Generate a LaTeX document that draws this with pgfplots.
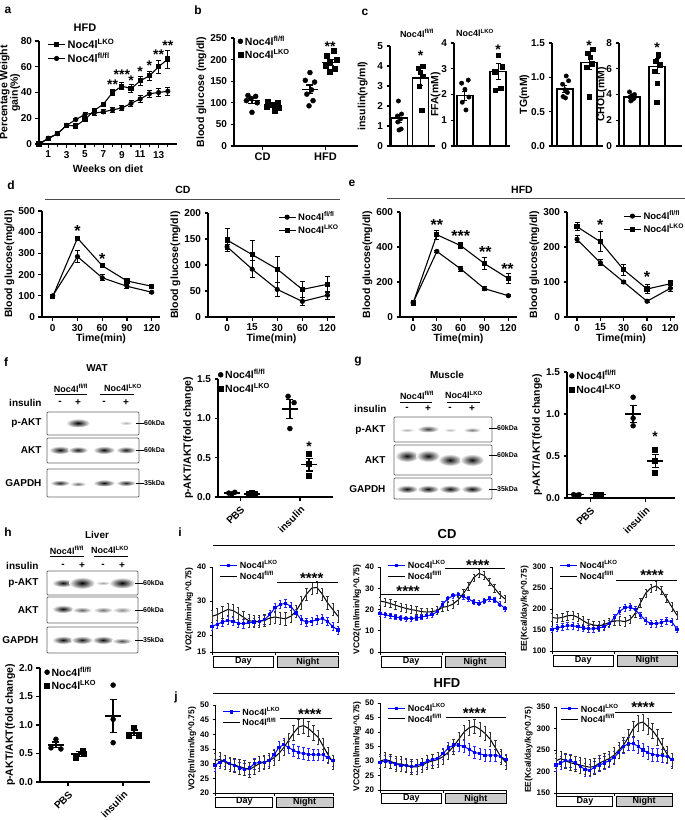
\documentclass[border=0pt]{standalone}
\usepackage{fontspec}
\setmainfont{Liberation Sans}
\usepackage{pgfplots}
\pgfplotsset{compat=1.18}
\newcommand{\fl}{Noc4l\textsuperscript{fl/fl}}
\newcommand{\lko}{Noc4l\textsuperscript{LKO}}
\newcommand{\fs}[1]{\fontsize{#1}{#1}\selectfont\bfseries}
\pgfplotsset{
 gp/.style={scale only axis, axis lines=left, axis line style={-, line width=1.3pt},
   tick align=outside, major tick length=3.5pt, minor tick length=3pt,
   every tick/.style={black, line width=1.2pt},
   tick label style={font=\fs{10}},
   label style={font=\fs{10.5}}, ylabel shift=-3pt,
   /pgf/number format/assume math mode=true,
   clip=false, legend cell align=left,
   legend style={draw=none, fill=none, font=\fs{10.5}, row sep=-1pt, inner sep=0pt}},
 ts/.style={tick label style={font=\fs{8}}, label style={font=\fs{8.5}}, major tick length=2.5pt,
   every tick/.style={black, line width=0.9pt}, axis line style={-, line width=1pt},
   xtick={0,12,24}, xticklabels={}, legend style={font=\fs{9}, row sep=-3pt}},
 dec1/.style={yticklabel style={/pgf/number format/fixed, /pgf/number format/fixed zerofill, /pgf/number format/precision=1}},
 ebar/.style={error bars/y dir=both, error bars/y explicit,
   error bars/error bar style={line width=1pt, black, solid},
   error bars/error mark options={rotate=90, mark size=2.5pt, line width=1pt, black}},
 dots/.style={only marks, mark size=2.5pt, black},
 meanl/.style={only marks, mark=-, mark size=8pt, black, mark options={line width=1.4pt},
   error bars/y dir=both, error bars/y explicit,
   error bars/error bar style={line width=1.3pt, black},
   error bars/error mark options={rotate=90, mark size=3.5pt, line width=1.3pt, black}},
 cbar/.style={ybar, bar width=16pt, fill=white, draw=black, line width=1.3pt, ebar},
 blueS/.style={blue, line width=1pt, mark=square*, mark size=1.1pt,
   error bars/y dir=both, error bars/y fixed=#1,
   error bars/error bar style={blue!85, line width=0.5pt},
   error bars/error mark options={rotate=90, mark size=1.2pt, blue!85, line width=0.5pt}},
 blackS/.style={black, line width=1pt, mark=none,
   error bars/y dir=both, error bars/y fixed=#1,
   error bars/error bar style={black!80, line width=0.5pt},
   error bars/error mark options={rotate=90, mark size=1.2pt, black!80, line width=0.5pt}},
}
\newcommand{\daynight}[3]{%
 \draw[line width=0.9pt, fill=white] (rel axis cs:0.008,#1) rectangle (rel axis cs:0.49,#2);
 \draw[line width=0.9pt, fill=gray!40] (rel axis cs:0.52,#1) rectangle (rel axis cs:1.0,#2);
 \node[font=\fs{9}] at (rel axis cs:0.25,#3) {Day};
 \node[font=\fs{9}] at (rel axis cs:0.76,#3) {Night};}
\newcommand{\band}[5]{\shade[inner color=black!#5, outer color=white] (#1,#2) ellipse (#3 and #4);}
\begin{document}
\begin{tikzpicture}[font=\bfseries]
\path[use as bounding box] (0,0) rectangle (685pt,-820pt);

%%%%%%%% a
\begin{axis}[gp, at={(39pt,-144pt)}, anchor=south west, width=138pt, height=103pt,
 xmin=0,xmax=15,ymin=0,ymax=80, xtick={1,3,...,13}, minor xtick={0,2,...,14}, ytick={0,20,...,80},
 xlabel={Weeks on diet}, ylabel={Percentage Weight\\gain(\%)}, ylabel style={align=center, font=\fs{10.5}}, ylabel shift=-6pt,
 legend style={at={(0.06,1.04)},anchor=north west, font=\fs{11}}]
\addplot[black, line width=1.1pt, mark=square*, mark size=2pt, ebar] coordinates {
(0,0)+-(0,0) (1,4)+-(0,0.5) (2,8)+-(0,0.8) (3,14.5)+-(0,1) (4,14)+-(0,1) (5,19)+-(0,1.5)
(6,26)+-(0,1.5) (7,31)+-(0,1.5) (8,40)+-(0,2.5) (9,45)+-(0,2.5) (10,43)+-(0,3) (11,49)+-(0,3.5)
(12,53)+-(0,3.5) (13,60)+-(0,5) (14,66)+-(0,7)};
\addlegendentry{\lko}
\addplot[black, line width=1.1pt, mark=*, mark size=2pt, ebar] coordinates {
(0,0)+-(0,0) (1,4.5)+-(0,0.5) (2,8)+-(0,0.8) (3,14.5)+-(0,1) (4,19)+-(0,1) (5,23)+-(0,1.5)
(6,24)+-(0,1.5) (7,25)+-(0,1.5) (8,26.5)+-(0,2) (9,28)+-(0,2) (10,31.5)+-(0,2) (11,35)+-(0,2.5)
(12,39)+-(0,2.5) (13,40)+-(0,3) (14,41)+-(0,3)};
\addlegendentry{\fl}
\begin{scope}[every node/.style={font=\fs{14}}]
\node at (axis cs:8,46) {**}; \node at (axis cs:9,54) {***}; \node at (axis cs:10,49) {*};
\node at (axis cs:11,56) {*}; \node at (axis cs:12,61) {*}; \node at (axis cs:13,69) {**};
\node at (axis cs:14,76) {**};
\end{scope}
\end{axis}

%%%%%%%% b
\begin{axis}[gp, at={(234pt,-146pt)}, anchor=south west, width=124pt, height=108pt,
 xmin=0,xmax=4,ymin=0,ymax=250, xtick={0.92,2.95}, xticklabels={CD,HFD}, ytick={0,50,...,250},
 xticklabel style={font=\fs{11}},
 ylabel={Blood glucose (mg/dl)}, legend style={at={(0.03,1.04)}, anchor=north west}]
\addplot[dots, mark=*] coordinates {(0.45,117)(0.7,115)(0.55,110)(0.4,105)(0.75,100)(0.58,78)
 (2.45,170)(2.3,152)(2.6,148)(2.5,130)(2.35,120)(2.55,105)(2.42,93)};
\addlegendentry{\fl}
\addplot[dots, mark=square*] coordinates {(1.1,103)(1.4,100)(1.25,95)(1.05,92)(1.45,88)(1.3,82)
 (3.2,220)(3.0,210)(3.3,200)(3.1,195)(2.95,185)(3.25,178)(3.1,172)};
\addlegendentry{\lko}
\addplot[meanl, forget plot] coordinates {(0.58,105)+-(0,6) (2.45,131)+-(0,10)};
\addplot[meanl, forget plot] coordinates {(1.26,93)+-(0,4) (3.1,193)+-(0,7)};
\node[font=\fs{14}] at (axis cs:3.1,230) {**};
\end{axis}

%%%%%%%% c
\begin{axis}[gp, at={(390pt,-146pt)}, anchor=south west, width=45pt, height=100pt,
 xmin=0.55, xmax=2.69, ymin=0, ymax=5, ytick={0,...,5}, xtick=\empty, ylabel={insulin(ng/ml)}, ylabel shift=3pt]
\addplot[cbar] coordinates {(1,1.4)+-(0,0.2) (2,3.4)+-(0,0.35)};
\addplot[dots, mark=*, mark size=2.2pt] coordinates {(0.95,2.25)(1.1,1.6)(0.9,1.5)(1.05,1.35)(0.92,1.2)(1.08,0.85)(0.98,0.8)};
\addplot[dots, mark=square*, mark size=2.2pt] coordinates {(2.1,4.0)(1.9,3.9)(2.0,3.7)(2.12,3.5)(1.95,3.0)(2.05,1.8)};
\node[font=\fs{14}] at (axis cs:2,4.5) {*};
\end{axis}
\begin{axis}[gp, at={(454pt,-146pt)}, anchor=south west, width=56pt, height=103pt,
 xmin=0.67, xmax=2.36, ymin=0, ymax=4, ytick={0,...,4}, xtick=\empty, ylabel={FFA(mM)}, ylabel shift=-6pt]
\addplot[cbar] coordinates {(1,1.95)+-(0,0.17) (2,2.9)+-(0,0.3)};
\addplot[dots, mark=*, mark size=2.2pt] coordinates {(1.1,2.56)(0.9,2.44)(1.0,2.2)(1.12,1.9)(0.92,1.7)(1.03,1.4)};
\addplot[dots, mark=square*, mark size=2.2pt] coordinates {(2.0,3.53)(2.12,3.08)(1.9,2.89)(2.08,2.24)(1.92,2.17)};
\node[font=\fs{14}] at (axis cs:2,3.75) {*};
\end{axis}
\begin{axis}[gp, dec1, at={(552pt,-146pt)}, anchor=south west, width=51pt, height=103pt,
 xmin=0.46, xmax=2.58, ymin=0, ymax=1.5, ytick={0,0.5,1,1.5}, xtick=\empty, ylabel={TG(mM)}, ylabel shift=-5pt]
\addplot[cbar] coordinates {(1,0.83)+-(0,0.05) (2,1.22)+-(0,0.1)};
\addplot[dots, mark=*, mark size=2.2pt] coordinates {(1.05,1.02)(1.15,0.95)(0.9,0.9)(1.0,0.82)(1.1,0.78)(0.92,0.72)(1.02,0.7)};
\addplot[dots, mark=square*, mark size=2.2pt] coordinates {(2.15,1.41)(1.95,1.35)(2.05,1.29)(2.12,1.2)(1.9,1.15)(2.0,0.72)};
\node[font=\fs{14}] at (axis cs:2,1.46) {*};
\end{axis}
\begin{axis}[gp, at={(619pt,-146pt)}, anchor=south west, width=63pt, height=103pt,
 xmin=0.48, xmax=3.0, ymin=0, ymax=8, ytick={0,2,...,8}, xtick=\empty, ylabel={CHOL(mM)}, ylabel shift=-7pt]
\addplot[cbar] coordinates {(1,3.8)+-(0,0.1) (2,6.2)+-(0,0.6)};
\addplot[dots, mark=*, mark size=2.2pt] coordinates {(0.9,4.2)(1.1,4.0)(1.0,3.9)(0.92,3.8)(1.08,3.7)(1.0,3.6)(0.95,3.5)};
\addplot[dots, mark=square*, mark size=2.2pt] coordinates {(2.05,7.1)(1.95,6.6)(2.1,6.3)(1.9,5.8)(2.0,4.9)(1.98,3.4)};
\node[font=\fs{14}] at (axis cs:2,7.6) {*};
\end{axis}

%%%%%%%% d
\begin{axis}[gp, at={(42pt,-317pt)}, anchor=south west, width=118pt, height=106pt,
 xmin=-13, xmax=130, ymin=0, ymax=500, xtick={0,30,60,90,120}, ytick={0,100,...,500},
 xlabel={Time(min)}, ylabel={Blood glucose(mg/dl)}, xlabel style={yshift=4pt}]
\addplot[black, line width=1.1pt, mark=*, mark size=2pt, ebar] coordinates {
(0,100)+-(0,5) (30,285)+-(0,28) (60,185)+-(0,15) (90,145)+-(0,10) (120,117)+-(0,5)};
\addplot[black, line width=1.1pt, mark=square*, mark size=2pt, ebar] coordinates {
(0,97)+-(0,5) (30,372)+-(0,8) (60,242)+-(0,6) (90,170)+-(0,7) (120,145)+-(0,6)};
\node[font=\fs{16}] at (axis cs:30,405) {*};
\node[font=\fs{16}] at (axis cs:60,275) {*};
\end{axis}
\begin{axis}[gp, at={(208pt,-317pt)}, anchor=south west, width=127pt, height=104pt,
 xmin=-0.76, xmax=4.3, ymin=0, ymax=200, xtick={0,...,4}, xticklabels={0,15,30,60,120}, ytick={0,50,...,200},
 xlabel={Time(min)}, ylabel={Blood glucose(mg/dl)}, xlabel style={yshift=4pt},
 legend style={at={(0.55,1.03)}, anchor=north west, font=\fs{9.5}}]
\addplot[black, line width=1.1pt, mark=*, mark size=2pt, ebar] coordinates {
(0,135)+-(0,5) (1,92)+-(0,16) (2,53)+-(0,14) (3,30)+-(0,8) (4,42)+-(0,8)};
\addlegendentry{\fl}
\addplot[black, line width=1.1pt, mark=square*, mark size=2pt, ebar] coordinates {
(0,148)+-(0,22) (1,120)+-(0,28) (2,92)+-(0,25) (3,53)+-(0,15) (4,63)+-(0,15)};
\addlegendentry{\lko}
\end{axis}

%%%%%%%% e
\begin{axis}[gp, at={(400pt,-317pt)}, anchor=south west, width=117pt, height=105pt,
 xmin=-16.5, xmax=131, ymin=0, ymax=600, xtick={0,30,60,90,120}, ytick={0,200,...,600},
 xlabel={Time(min)}, ylabel={Blood glucose(mg/dl)}, xlabel style={yshift=4pt}]
\addplot[black, line width=1.1pt, mark=*, mark size=2pt, ebar] coordinates {
(0,82)+-(0,5) (30,375)+-(0,6) (60,275)+-(0,15) (90,162)+-(0,12) (120,122)+-(0,5)};
\addplot[black, line width=1.1pt, mark=square*, mark size=2pt, ebar] coordinates {
(0,80)+-(0,8) (30,470)+-(0,25) (60,408)+-(0,15) (90,305)+-(0,35) (120,220)+-(0,30)};
\begin{scope}[every node/.style={font=\fs{16}}]
\node at (axis cs:30,525) {**}; \node at (axis cs:60,462) {***};
\node at (axis cs:91,370) {**}; \node at (axis cs:119,275) {**};
\end{scope}
\end{axis}
\begin{axis}[gp, at={(567pt,-317pt)}, anchor=south west, width=108pt, height=105pt,
 xmin=-0.43, xmax=4.2, ymin=0, ymax=300, xtick={0,...,4}, xticklabels={0,15,30,60,120}, ytick={0,100,...,300},
 xlabel={Time(min)}, ylabel={Blood glucose(mg/dl)}, xlabel style={yshift=4pt},
 legend style={at={(0.52,1.03)}, anchor=north west, font=\fs{9.5}}]
\addplot[black, line width=1.1pt, mark=*, mark size=2pt, ebar] coordinates {
(0,222)+-(0,10) (1,155)+-(0,8) (2,100)+-(0,4) (3,45)+-(0,4) (4,82)+-(0,8)};
\addlegendentry{\fl}
\addplot[black, line width=1.1pt, mark=square*, mark size=2pt, ebar] coordinates {
(0,258)+-(0,12) (1,215)+-(0,28) (2,135)+-(0,15) (3,80)+-(0,12) (4,95)+-(0,10)};
\addlegendentry{\lko}
\node[font=\fs{16}] at (axis cs:1,262) {*};
\node[font=\fs{16}] at (axis cs:3,115) {*};
\end{axis}

%%%%%%%% f
\begin{axis}[gp, dec1, at={(218pt,-497pt)}, anchor=south west, width=115pt, height=118pt,
 xmin=0, xmax=1.92, ymin=0, ymax=1.5, ytick={0,0.5,1,1.5}, xtick={0.37,1.37}, xticklabels={PBS,insulin},
 xticklabel style={rotate=45, anchor=north east, font=\fs{10}},
 ylabel={p-AKT/AKT(fold change)}, legend style={at={(0.0,1.1)}, anchor=north west}]
\addplot[dots, mark=*] coordinates {(0.18,0.05)(0.23,0.04)(0.28,0.06)(1.17,1.28)(1.27,1.2)(1.2,0.87)};
\addlegendentry{\fl}
\addplot[dots, mark=square*] coordinates {(0.52,0.04)(0.57,0.05)(0.62,0.04)(1.52,0.55)(1.52,0.42)(1.52,0.27)};
\addlegendentry{\lko}
\addplot[meanl, forget plot] coordinates {(0.23,0.05)+-(0,0.005) (1.2,1.12)+-(0,0.12)};
\addplot[meanl, forget plot] coordinates {(0.57,0.04)+-(0,0.005) (1.52,0.41)+-(0,0.08)};
\node[font=\fs{14}] at (axis cs:1.52,0.64) {*};
\end{axis}

%%%%%%%% g
\begin{axis}[gp, dec1, at={(567pt,-498pt)}, anchor=south west, width=108pt, height=126pt,
 xmin=0, xmax=1.96, ymin=0, ymax=1.5, ytick={0,0.5,1,1.5}, xtick={0.42,1.42}, xticklabels={PBS,insulin},
 xticklabel style={rotate=45, anchor=north east, font=\fs{10}},
 ylabel={p-AKT/AKT(fold change)}, legend style={at={(0.02,1.03)}, anchor=north west}]
\addplot[dots, mark=*] coordinates {(0.12,0.04)(0.17,0.03)(0.22,0.04)(1.2,1.2)(1.2,0.95)(1.2,0.86)};
\addlegendentry{\fl}
\addplot[dots, mark=square*] coordinates {(0.52,0.04)(0.57,0.03)(0.62,0.04)(1.6,0.58)(1.6,0.44)(1.6,0.3)};
\addlegendentry{\lko}
\addplot[meanl, forget plot] coordinates {(0.17,0.04)+-(0,0.005) (1.2,1.0)+-(0,0.1)};
\addplot[meanl, forget plot] coordinates {(0.57,0.04)+-(0,0.005) (1.6,0.44)+-(0,0.08)};
\node[font=\fs{14}] at (axis cs:1.6,0.73) {*};
\end{axis}

%%%%%%%% h
\begin{axis}[gp, dec1, at={(40pt,-782pt)}, anchor=south west, width=110pt, height=114pt,
 xmin=0, xmax=2.0, ymin=0, ymax=2.0, ytick={0,0.5,...,2.0}, xtick={0.51,1.51}, xticklabels={PBS,insulin},
 xticklabel style={rotate=45, anchor=north east, font=\fs{10}},
 ylabel={p-AKT/AKT(fold change)}, legend style={at={(0.04,1.03)}, anchor=north west}]
\addplot[dots, mark=*] coordinates {(0.29,0.75)(0.2,0.6)(0.38,0.58)(1.33,1.7)(1.33,1.1)(1.33,0.69)};
\addlegendentry{\fl}
\addplot[dots, mark=square*] coordinates {(0.78,0.55)(0.65,0.43)(0.8,0.5)(1.71,0.95)(1.62,0.82)(1.8,0.82)};
\addlegendentry{\lko}
\addplot[meanl, forget plot] coordinates {(0.29,0.65)+-(0,0.05) (1.33,1.16)+-(0,0.29)};
\addplot[meanl, forget plot] coordinates {(0.71,0.49)+-(0,0.04) (1.71,0.86)+-(0,0.05)};
\end{axis}

%%%%%%%% i
\begin{axis}[gp, ts, at={(212pt,-652pt)}, anchor=south west, width=126pt, height=85pt,
 xmin=0, xmax=24, ymin=15, ymax=40, ytick={15,20,30,40}, ylabel={VO2(ml/min/kg\textasciicircum0.75)},
 legend style={at={(0.06,1.1)}, anchor=north west}]
\addplot[blueS=1.2] coordinates {(0,22.5)(1,23.2)(2,23.8)(3,24.3)(4,24.0)(5,23.5)(6,23.3)(7,23.6)(8,23.8)(9,24.0)(10,24.5)(11,26.0)(12,28.0)(13,29.0)(14,29.3)(15,28.5)(16,26.5)(17,24.5)(18,23.8)(19,24.0)(20,24.5)(21,24.8)(22,24.0)(23,22.5)(24,21.5)};
\addlegendentry{\lko}
\addplot[blackS=1.8] coordinates {(0,25.5)(1,26.0)(2,26.8)(3,27.5)(4,27.2)(5,26.3)(6,25.2)(7,24.2)(8,24.0)(9,24.0)(10,24.3)(11,25.0)(12,25.3)(13,25.0)(14,24.8)(15,25.5)(16,27.0)(17,29.5)(18,32.0)(19,33.8)(20,34.0)(21,32.0)(22,29.5)(23,27.5)(24,25.5)};
\addlegendentry{\fl}
\draw[line width=0.8pt] (axis cs:12.4,35.6) -- (axis cs:24,35.6);
\node[font=\fs{15}] at (axis cs:19,36.8) {****};
\daynight{-0.05}{-0.18}{-0.115}
\end{axis}
\begin{axis}[gp, ts, at={(380pt,-652pt)}, anchor=south west, width=125pt, height=85pt,
 xmin=0, xmax=24, ymin=0, ymax=40, ytick={0,10,...,40}, ylabel={VCO2(ml/min/kg\textasciicircum0.75)},
 legend style={at={(0.06,1.1)}, anchor=north west}]
\addplot[blueS=1.2] coordinates {(0,18.0)(1,17.5)(2,17.0)(3,16.5)(4,16.0)(5,15.8)(6,15.8)(7,16.0)(8,16.5)(9,17.0)(10,17.5)(11,19.0)(12,22.5)(13,25.0)(14,26.5)(15,27.0)(16,26.0)(17,25.0)(18,23.5)(19,23.0)(20,24.0)(21,25.0)(22,24.5)(23,22.5)(24,20.5)};
\addlegendentry{\lko}
\addplot[blackS=1.8] coordinates {(0,24.0)(1,23.5)(2,22.8)(3,22.0)(4,21.2)(5,20.5)(6,20.0)(7,19.5)(8,19.0)(9,18.8)(10,19.0)(11,19.5)(12,21.0)(13,21.5)(14,22.5)(15,24.5)(16,27.5)(17,31.0)(18,35.0)(19,37.0)(20,36.0)(21,33.0)(22,30.0)(23,27.0)(24,25.0)};
\addlegendentry{\fl}
\draw[line width=0.8pt] (axis cs:0,27.3) -- (axis cs:11.5,27.3);
\node[font=\fs{15}] at (axis cs:5.4,28.6) {****};
\draw[line width=0.8pt] (axis cs:12.5,39.5) -- (axis cs:24,39.5);
\node[font=\fs{15}] at (axis cs:18.8,40.8) {****};
\daynight{-0.05}{-0.18}{-0.115}
\end{axis}
\begin{axis}[gp, ts, at={(552pt,-651pt)}, anchor=south west, width=125pt, height=84pt,
 xmin=0, xmax=24, ymin=100, ymax=300, ytick={100,150,...,300}, ylabel={EE(Kcal/day/kg\textasciicircum0.75)},
 legend style={at={(0.06,1.1)}, anchor=north west}]
\addplot[blueS=8] coordinates {(0,152)(1,155)(2,158)(3,160)(4,160)(5,158)(6,155)(7,153)(8,153)(9,155)(10,158)(11,165)(12,180)(13,195)(14,203)(15,205)(16,198)(17,185)(18,172)(19,165)(20,165)(21,168)(22,172)(23,170)(24,152)};
\addlegendentry{\lko}
\addplot[blackS=10] coordinates {(0,180)(1,178)(2,180)(3,184)(4,185)(5,180)(6,172)(7,165)(8,162)(9,160)(10,163)(11,168)(12,172)(13,172)(14,170)(15,175)(16,190)(17,215)(18,238)(19,250)(20,255)(21,245)(22,225)(23,205)(24,185)};
\addlegendentry{\fl}
\draw[line width=0.8pt] (axis cs:12.3,267) -- (axis cs:24,267);
\node[font=\fs{15}] at (axis cs:19.2,279) {****};
\daynight{-0.05}{-0.18}{-0.115}
\end{axis}

%%%%%%%% j
\begin{axis}[gp, ts, at={(215pt,-793pt)}, anchor=south west, width=118pt, height=88pt,
 xmin=0, xmax=24, ymin=20, ymax=50, ytick={20,25,...,50}, ylabel={VO2(ml/min/kg\textasciicircum0.75)},
 legend style={at={(0.06,1.0)}, anchor=north west}]
\addplot[blueS=2] coordinates {(0,29.5)(1,30.5)(2,31.0)(3,30.0)(4,29.5)(5,28.5)(6,28.0)(7,28.5)(8,30.0)(9,30.5)(10,30.5)(11,31.0)(12,33.0)(13,35.5)(14,36.5)(15,35.5)(16,34.5)(17,33.8)(18,33.5)(19,33.2)(20,33.0)(21,33.0)(22,33.0)(23,32.0)(24,31.0)};
\addlegendentry{\lko}
\addplot[blackS=2.5] coordinates {(0,31.0)(1,31.5)(2,30.5)(3,29.8)(4,29.5)(5,29.0)(6,28.5)(7,28.0)(8,29.0)(9,30.0)(10,30.5)(11,31.0)(12,32.0)(13,33.5)(14,35.5)(15,38.0)(16,40.5)(17,42.5)(18,43.0)(19,42.0)(20,40.5)(21,39.0)(22,36.0)(23,33.0)(24,30.5)};
\addlegendentry{\fl}
\draw[line width=0.8pt] (axis cs:13.2,45.6) -- (axis cs:23.8,45.6);
\node[font=\fs{15}] at (axis cs:19.3,46.8) {****};
\daynight{-0.045}{-0.16}{-0.1}
\end{axis}
\begin{axis}[gp, ts, at={(380pt,-790pt)}, anchor=south west, width=126pt, height=87pt,
 xmin=0, xmax=24, ymin=20, ymax=50, ytick={20,25,...,50}, ylabel={VCO2(ml/min/kg\textasciicircum0.75)},
 legend style={at={(0.06,1.02)}, anchor=north west}]
\addplot[blueS=2] coordinates {(0,29.5)(1,30.0)(2,29.5)(3,29.0)(4,28.5)(5,28.5)(6,28.0)(7,28.5)(8,29.0)(9,30.0)(10,30.5)(11,31.0)(12,32.5)(13,34.5)(14,35.5)(15,35.5)(16,35.0)(17,34.0)(18,33.0)(19,32.5)(20,32.0)(21,32.0)(22,32.0)(23,31.5)(24,30.5)};
\addlegendentry{\lko}
\addplot[blackS=2.5] coordinates {(0,30.0)(1,30.5)(2,30.0)(3,29.0)(4,29.0)(5,28.5)(6,28.0)(7,28.0)(8,28.5)(9,29.5)(10,30.0)(11,30.5)(12,31.5)(13,33.0)(14,35.0)(15,37.5)(16,40.0)(17,41.5)(18,42.0)(19,41.0)(20,39.5)(21,37.5)(22,34.5)(23,31.5)(24,29.5)};
\addlegendentry{\fl}
\draw[line width=0.8pt] (axis cs:12.6,45.2) -- (axis cs:24,45.2);
\node[font=\fs{15}] at (axis cs:18,46.5) {****};
\daynight{-0.045}{-0.16}{-0.1}
\end{axis}
\begin{axis}[gp, ts, at={(556pt,-793pt)}, anchor=south west, width=116pt, height=86pt,
 xmin=0, xmax=24, ymin=150, ymax=350, ytick={150,200,...,350}, ylabel={EE(Kcal/day/kg\textasciicircum0.75)},
 legend style={at={(0.04,1.06)}, anchor=north west}]
\addplot[blueS=15] coordinates {(0,215)(1,220)(2,225)(3,225)(4,220)(5,212)(6,205)(7,203)(8,210)(9,215)(10,220)(11,225)(12,232)(13,245)(14,258)(15,265)(16,265)(17,258)(18,250)(19,244)(20,240)(21,238)(22,237)(23,235)(24,228)};
\addlegendentry{\lko}
\addplot[blackS=18] coordinates {(0,225)(1,230)(2,225)(3,220)(4,218)(5,215)(6,212)(7,210)(8,212)(9,220)(10,225)(11,230)(12,238)(13,250)(14,262)(15,280)(16,300)(17,312)(18,315)(19,305)(20,295)(21,280)(22,260)(23,240)(24,225)};
\addlegendentry{\fl}
\draw[line width=0.8pt] (axis cs:12.2,338) -- (axis cs:24,338);
\node[font=\fs{15}] at (axis cs:18,350) {****};
\daynight{-0.045}{-0.16}{-0.1}
\end{axis}

%%%%%%%% free text, headers, blots
\begin{scope}[x=1pt, y=-1pt]
\begin{scope}[every node/.style={font=\fs{12}}]
\node at (8,10) {a}; \node at (198,10) {b}; \node at (365,12) {c}; \node at (11,185) {d};
\node at (352,183) {e}; \node at (6,362) {f}; \node at (358,362) {g}; \node at (8,532) {h};
\node at (180,532) {i}; \node at (176,697) {j};
\end{scope}
\node[font=\fs{11}] at (85,28) {HFD};
\node[font=\fs{9}] at (417,33) {\fl};
\node[font=\fs{9}] at (475,33) {\lko};
\draw[black!70, line width=1pt] (45,199) -- (340,199); \node[font=\fs{10.5}] at (183,190) {CD};
\draw[black!70, line width=1pt] (387,198) -- (685,198); \node[font=\fs{10.5}] at (522,190) {HFD};
\draw[line width=0.8pt] (213,545) -- (675,545); \node[font=\fs{13}] at (447,534) {CD};
\draw[line width=0.8pt] (213,693) -- (675,693); \node[font=\fs{13}] at (447,683) {HFD};
% f blot
\node[font=\fs{10}] at (97,368) {WAT};
\node[font=\fs{9}] at (71,388) {\fl}; \draw[line width=0.6pt] (55,394)--(87,394);
\node[font=\fs{9}] at (123,388) {\lko}; \draw[line width=0.6pt] (100,394)--(134,394);
\node[font=\fs{10}, anchor=east] at (45,403) {insulin};
\foreach \x/\s in {60/-,78/+,104/-,126/+} \node[font=\fs{10}] at (\x,403) {\s};
\band{78}{423}{12}{4.5}{100} \band{126}{423}{7}{2}{30}
\band{60}{450}{11}{4}{95} \band{78}{450}{10}{3.5}{90} \band{104}{450}{11}{4}{95} \band{126}{450}{10}{3.5}{90}
\band{60}{483}{10}{3}{85} \band{78}{484}{8}{2.5}{55} \band{104}{483}{11}{3.5}{95} \band{126}{483}{10}{3}{85}
\draw[black!60, line width=0.9pt, rounded corners=1pt] (47,412) rectangle (139,435) (47,438) rectangle (139,463) (47,469) rectangle (139,497);
\node[font=\fs{10}, anchor=east] at (45,423) {p-AKT};
\node[font=\fs{10}, anchor=east] at (45,450) {AKT};
\node[font=\fs{10}, anchor=east] at (45,483) {GAPDH};
\foreach \y/\t in {423/60kDa,450/60kDa,483/35kDa} {\draw[line width=0.5pt] (136,\y)--(144,\y); \node[font=\fs{7}, anchor=west, inner sep=1pt] at (143,\y) {\t};}
% g blot
\node[font=\fs{10}] at (447,375) {Muscle};
\node[font=\fs{9}] at (417,395) {\fl}; \draw[line width=0.6pt] (400,402)--(432,402);
\node[font=\fs{9}] at (464,395) {\lko}; \draw[line width=0.6pt] (447,402)--(480,402);
\node[font=\fs{10}, anchor=east] at (390,409) {insulin};
\foreach \x/\s in {407/-,428/+,450/-,472/+} \node[font=\fs{10}] at (\x,409) {\s};
\band{407}{430}{8}{2}{30} \band{428}{429}{11}{3.5}{75} \band{450}{430}{7}{2}{25} \band{472}{430}{9}{2.5}{50}
\band{407}{456}{12}{6}{95} \band{428}{456}{12}{6}{95} \band{450}{460}{12}{6}{95} \band{472}{460}{12}{6}{95}
\band{407}{489}{11}{4}{95} \band{428}{489}{11}{4}{95} \band{450}{489}{11}{4}{95} \band{472}{489}{11}{4}{95}
\draw[black!60, line width=0.9pt, rounded corners=1pt] (394,417) rectangle (492,442) (394,445) rectangle (492,475) (394,478) rectangle (492,499);
\node[font=\fs{10}, anchor=east] at (389,430) {p-AKT};
\node[font=\fs{10}, anchor=east] at (389,460) {AKT};
\node[font=\fs{10}, anchor=east] at (389,489) {GAPDH};
\foreach \y/\t in {428/60kDa,455/60kDa,489/35kDa} {\draw[line width=0.5pt] (489,\y)--(497,\y); \node[font=\fs{7}, anchor=west, inner sep=1pt] at (496,\y) {\t};}
% h blot
\node[font=\fs{10}] at (97,535) {Liver};
\node[font=\fs{9}] at (67,550) {\fl}; \draw[line width=0.6pt] (50,556)--(84,556);
\node[font=\fs{9}] at (110,550) {\lko}; \draw[line width=0.6pt] (94,556)--(128,556);
\node[font=\fs{10}, anchor=east] at (42,566) {insulin};
\foreach \x/\s in {63/-,82/+,103/-,122/+} \node[font=\fs{10}] at (\x,566) {\s};
\band{63}{583}{11}{4}{95} \band{82}{583}{13}{6}{100} \band{103}{583}{8}{2}{35} \band{122}{583}{13}{5.5}{100}
\band{63}{609}{11}{4}{95} \band{82}{610}{10}{3}{60} \band{103}{610}{10}{3}{55} \band{122}{610}{10}{3}{45}
\band{63}{640}{11}{4}{95} \band{82}{640}{11}{4}{90} \band{103}{640}{11}{4}{95} \band{122}{641}{10}{3}{70}
\draw[black!60, line width=0.9pt, rounded corners=1pt] (47,571) rectangle (138,595) (47,597) rectangle (138,623) (47,627) rectangle (138,653);
\node[font=\fs{10}, anchor=east] at (42,583) {p-AKT};
\node[font=\fs{10}, anchor=east] at (42,610) {AKT};
\node[font=\fs{10}, anchor=east] at (42,640) {GAPDH};
\foreach \y/\t in {583/60kDa,610/60kDa,640/35kDa} {\draw[line width=0.5pt] (135,\y)--(143,\y); \node[font=\fs{7}, anchor=west, inner sep=1pt] at (142,\y) {\t};}
\end{scope}
\end{tikzpicture}
\end{document}
